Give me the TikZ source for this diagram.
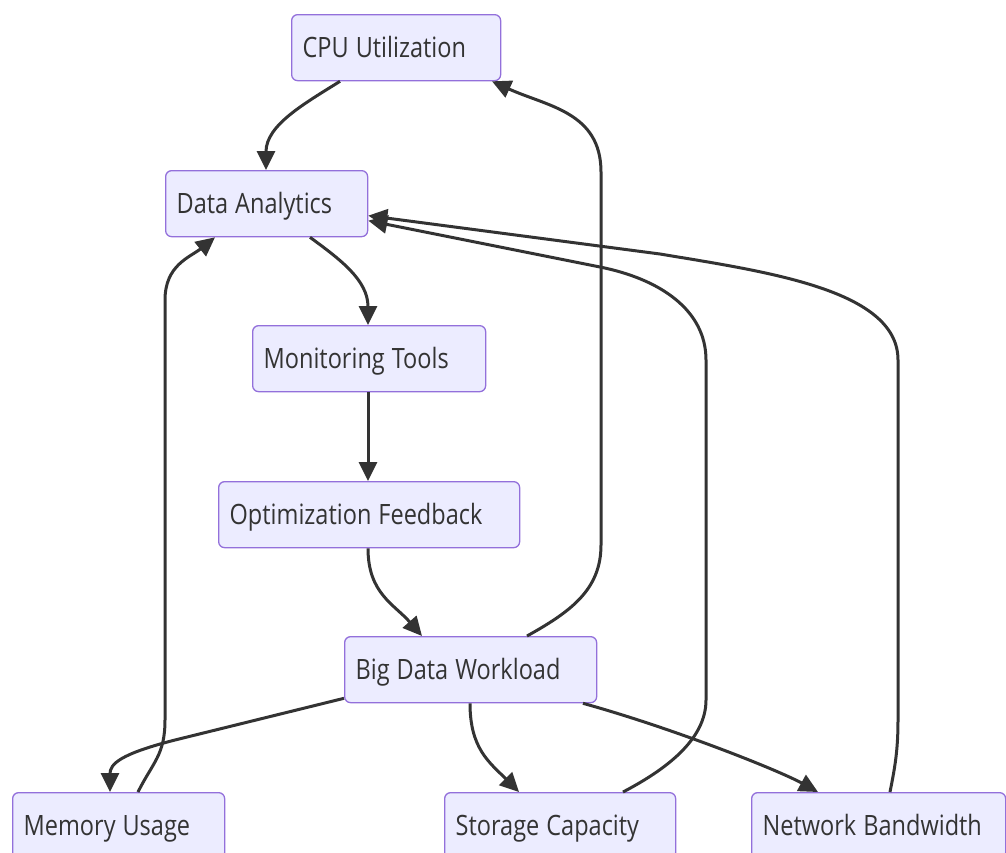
\documentclass[tikz,border=0pt]{standalone}
\usepackage{fontspec}
\setmainfont{Open Sans}[FakeStretch=0.84]
\usetikzlibrary{arrows.meta}

\definecolor{relleno}{HTML}{ECECFF}
\definecolor{borde}{HTML}{9370DB}
\definecolor{linea}{HTML}{333333}

\tikzset{
    caja/.style={draw=borde, fill=relleno, line width=1.3pt, rounded corners=6pt,
        anchor=north west, minimum height=66pt, inner xsep=11pt, align=left,
        text=linea, text height=21pt, text depth=1pt,
        font=\fontsize{28}{34}\selectfont,
        execute at begin node={\spaceskip=7pt\relax}},
    flecha/.style={draw=linea, line width=3pt, -{Triangle[length=19pt,width=18pt]}}
}

\begin{document}
\begin{tikzpicture}[x=1pt, y=-1pt]
    \clip (0,0) rectangle (1006,852);

    % Cajas
    \node[caja, text width=187pt] (cpu) at (291,14) {CPU Utilization};
    \node[caja, text width=180pt] (da) at (165,170) {Data Analytics};
    \node[caja, text width=211pt] (mt) at (252,325) {Monitoring Tools};
    \node[caja, text width=279pt] (of) at (218,481) {Optimization Feedback};
    \node[caja, text width=230pt] (bdw) at (344,636) {Big Data Workload};
    \node[caja, text width=190pt] (mem) at (12,792) {Memory Usage};
    \node[caja, text width=209pt] (sto) at (444,792) {Storage Capacity};
    \node[caja, text width=232pt] (net) at (751,792) {Network Bandwidth};

    % Cadena principal
    \draw[flecha] ([xshift=49pt]cpu.south west) .. controls +(-35,22) and +(0,-45) .. ([xshift=101pt]da.north west);
    \draw[flecha] ([xshift=145pt]da.south west) .. controls +(30,22) and +(0,-45) .. ([xshift=116pt]mt.north west);
    \draw[flecha] ([xshift=116pt]mt.south west) -- ([xshift=150pt]of.north west);
    \draw[flecha] ([xshift=150pt]of.south west) .. controls +(0,45) and +(-28,-32) .. ([xshift=78pt]bdw.north west);

    % Salidas de la carga de trabajo
    \draw[flecha] ([xshift=183pt]bdw.north west) .. controls +(43,-24) and +(0,45) .. (601,545)
        -- (601,172) .. controls +(0,-60) and +(55,25) .. ([xshift=201pt]cpu.south west);
    \draw[flecha] ([yshift=5pt]bdw.south west) -- (175,740) .. controls +(-55,14) and +(0,-28) .. ([xshift=98pt]mem.north west);
    \draw[flecha] ([xshift=126pt]bdw.south west) .. controls +(0,45) and +(-30,-30) .. ([xshift=75pt]sto.north west);
    \draw[flecha] ([xshift=239pt]bdw.south west) .. controls +(90,25) and +(-40,-22) .. ([xshift=67pt]net.north west);

    % Retorno hacia Data Analytics
    \draw[flecha] ([xshift=126pt]mem.north west) .. controls +(15,-30) and +(0,35) .. (165,720)
        -- (165,300) .. controls +(0,-35) and +(-25,20) .. ([xshift=50pt]da.south west);
    \draw[flecha] ([xshift=179pt]sto.north west) .. controls +(42,-22) and +(0,40) .. (706,700)
        -- (706,360) .. controls +(0,-50) and +(60,12) .. (600,267) -- ([yshift=-17pt]da.east);
    \draw[flecha] ([xshift=139pt]net.north west) .. controls +(5,-25) and +(0,30) .. (898,720)
        -- (898,360) .. controls +(0,-70) and +(108,18) .. (660,254) -- ([yshift=-12pt]da.east);

\end{tikzpicture}
\end{document}
